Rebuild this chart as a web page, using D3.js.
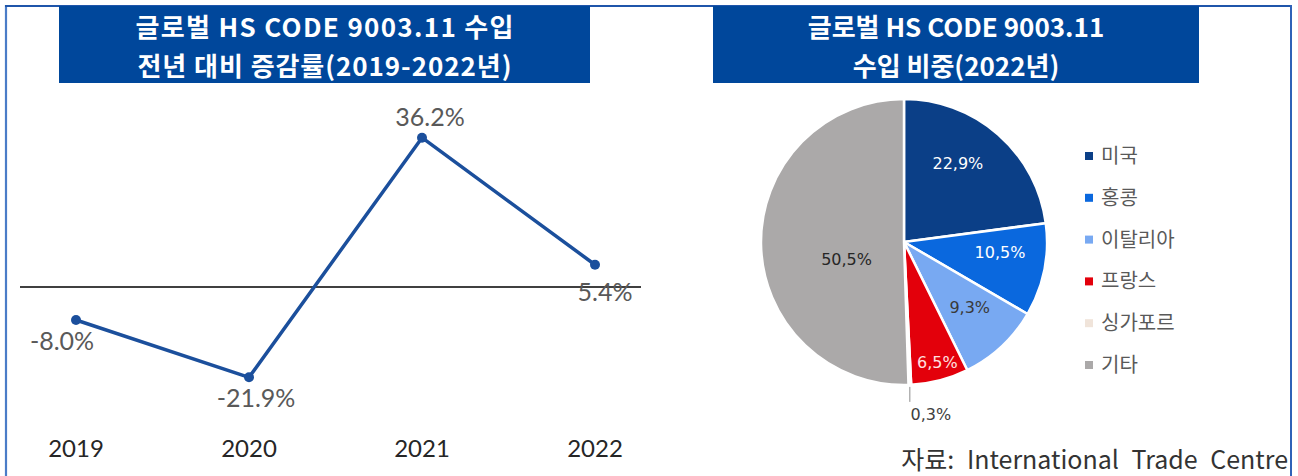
<!DOCTYPE html>
<html><head><meta charset="utf-8">
<script src="https://cdn.jsdelivr.net/npm/d3@7"></script>
<style>
html,body{margin:0;padding:0;background:#fff;}
svg{display:block;}
</style></head>
<body>
<svg id="c" width="1298" height="476"></svg>
<script>
// ---- data ----
const years = ["2019","2020","2021","2022"];
const growth = [-8.0, -21.9, 36.2, 5.4];
const growthLabels = ["-8.0%","-21.9%","36.2%","5.4%"];
const countries = ["미국","홍콩","이탈리아","프랑스","싱가포르","기타"];
const shares = [22.9, 10.5, 9.3, 6.5, 0.3, 50.5];
const shareLabels = ["22,9%","10,5%","9,3%","6,5%","0,3%","50,5%"];
const title1 = ["글로벌 HS CODE 9003.11 수입","전년 대비 증감률(2019-2022년)"];
const title2 = ["글로벌 HS CODE 9003.11","수입 비중(2022년)"];
const source = "자료: International Trade Centre";

const svg = d3.select("#c");
const KR = "'Noto Sans CJK KR','Noto Sans',sans-serif";

// frame
svg.append("line").attr("x1",6).attr("x2",6).attr("y1",5).attr("y2",476).attr("stroke","#4a7cc7").attr("stroke-width",2.2);
svg.append("line").attr("x1",5).attr("x2",1292).attr("y1",6).attr("y2",6).attr("stroke","#1f55aa").attr("stroke-width",2);
svg.append("line").attr("x1",1291).attr("x2",1291).attr("y1",5).attr("y2",476).attr("stroke","#2f62b8").attr("stroke-width",2);

// title boxes
function titleBox(x0,x1,lines,fits){
  svg.append("rect").attr("x",x0).attr("y",6).attr("width",x1-x0).attr("height",77).attr("fill","#00479b");
  lines.forEach((t,i)=>{
    const tx = svg.append("text").attr("x",(x0+x1)/2).attr("y",37+i*39).attr("text-anchor","middle")
      .attr("font-family",KR).attr("font-weight","bold").attr("font-size",26).attr("fill","#fff").text(t);
    if(fits && fits[i]) tx.attr("textLength",fits[i]).attr("lengthAdjust","spacing");
  });
}
titleBox(59,590,title1,[378,374]);
titleBox(713,1199,title2,null);

// ---- line chart ----
const x = d3.scalePoint().domain(years).range([76,595]);
const y = d3.scaleLinear().domain([-30,40]).range([410.75,122]);
const LAT = "Lato,'Open Sans',sans-serif";

svg.append("line").attr("x1",20).attr("x2",641).attr("y1",y(0)).attr("y2",y(0))
  .attr("stroke","#000").attr("stroke-width",1.3);

const pts = years.map((yr,i)=>({yr,v:growth[i],lab:growthLabels[i]}));
svg.append("path").datum(pts)
  .attr("d",d3.line().x(d=>x(d.yr)).y(d=>y(d.v)))
  .attr("fill","none").attr("stroke","#1b4f9c").attr("stroke-width",3.5).attr("stroke-linejoin","round");
svg.selectAll("circle.p").data(pts).join("circle")
  .attr("cx",d=>x(d.yr)).attr("cy",d=>y(d.v)).attr("r",5).attr("fill","#1b4f9c");

const labOff = [{dx:-14,dy:30},{dx:7,dy:30},{dx:8,dy:-12},{dx:10,dy:36}];
svg.selectAll("text.dl").data(pts).join("text")
  .attr("x",(d,i)=>x(d.yr)+labOff[i].dx).attr("y",(d,i)=>y(d.v)+labOff[i].dy)
  .attr("text-anchor","middle").attr("font-family",LAT).attr("font-size",25)
  .attr("fill","#595959").text(d=>d.lab);

svg.selectAll("text.yr").data(years).join("text")
  .attr("x",d=>x(d)).attr("y",457).attr("text-anchor","middle")
  .attr("font-family",LAT).attr("font-size",24).attr("fill","#262626").text(d=>d);

// ---- pie ----
const colors = ["#0b3f87","#0a68de","#78a9f2","#e3000b","#f0e4da","#aba9a9"];
const cx = 904, cy = 242, R = 143;
const pdata = countries.map((c,i)=>({c,v:shares[i],lab:shareLabels[i],col:colors[i]}));
const pie = d3.pie().value(d=>d.v).sort(null);
const arcs = pie(pdata);
const arc = d3.arc().innerRadius(0).outerRadius(R);
const g = svg.append("g").attr("transform",`translate(${cx},${cy})`);
g.selectAll("path").data(arcs).join("path").attr("d",arc)
  .attr("fill",d=>d.data.col).attr("stroke","#fff").attr("stroke-width",2.5).attr("stroke-linejoin","round");

// label placement (radius fraction, angle shift in degrees)
const labR = [0.67,0.675,0.65,0.87,1.0,0.42];
const labShift = [-7,-5,-2,-1,0,-16];
const labCol = ["#ffffff","#ffffff","#3a3a3a","#ffe0e0","#404040","#262626"];
const DJ = "'DejaVu Sans',sans-serif";
arcs.forEach((a,i)=>{
  const m = (a.startAngle+a.endAngle)/2 + labShift[i]*Math.PI/180;
  let px, py;
  if(i===4){
    const ex = Math.sin(m)*R, ey = -Math.cos(m)*R;
    g.append("line").attr("x1",ex).attr("y1",ey+2).attr("x2",ex).attr("y2",ey+17)
      .attr("stroke","#8c8c8c").attr("stroke-width",1);
    px = ex+21; py = ey+29;
  } else {
    px = Math.sin(m)*R*labR[i]; py = -Math.cos(m)*R*labR[i];
  }
  g.append("text").attr("x",px).attr("y",py).attr("dy","0.36em").attr("text-anchor","middle")
    .attr("font-family",DJ).attr("font-size",16).attr("fill",labCol[i]).text(a.data.lab);
});

// legend
const lg = svg.append("g");
pdata.forEach((d,i)=>{
  const ly = 156 + i*41.8;
  lg.append("rect").attr("x",1085).attr("y",ly-4).attr("width",8).attr("height",8).attr("fill",d.col);
  lg.append("text").attr("x",1101).attr("y",ly).attr("dy","0.35em")
    .attr("font-family",KR).attr("font-size",20).attr("fill","#595959").text(d.c);
});

// source
svg.append("text").attr("x",1288).attr("y",469).attr("text-anchor","end")
  .attr("font-family",KR).attr("font-size",25).attr("fill","#333")
  .attr("word-spacing",7).text(source);
</script>
</body></html>
